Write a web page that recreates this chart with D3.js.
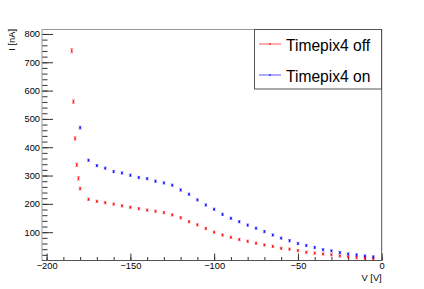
<!DOCTYPE html>
<html>
<head>
<meta charset="utf-8">
<script src="https://cdn.jsdelivr.net/npm/d3@7"></script>
<style>
  body { margin: 0; background: #fff; }
  svg text { font-family: "Liberation Sans", Arial, sans-serif; fill: #000; }
</style>
</head>
<body>
<div id="ivcurve"></div>
<script>
var width = 424, height = 289;

// Timepix4 off (red)
var offV   = [-185, -184, -183, -182, -181, -180, -175, -170, -165, -160, -155, -150, -145, -140, -135, -130, -125, -120, -115, -110, -105,
              -100, -95, -90, -85, -80, -75, -70, -65, -60, -55, -50, -45, -40, -35, -30, -25, -20, -15, -10, -5];
var offI   = [741, 561, 431, 338, 290, 254, 216, 209, 204, 199, 193, 188, 183, 178, 174, 169, 161, 151, 137, 126, 113,
              100, 90, 82, 74, 68, 61, 55, 50, 43, 40, 35, 29, 26, 23, 20, 16, 13, 10, 8, 6];
var offErr = [7, 6, 6, 6, 6, 5, 4, 4, 4, 4, 4, 4, 4, 4, 4, 4, 4, 4, 4, 4, 4,
              4, 4, 4, 4, 4, 4, 4, 4, 4, 4, 4, 4, 4, 4, 4, 4, 4, 4, 4, 4];

// Timepix4 on (blue)
var onV   = [-180, -175, -170, -165, -160, -155, -150, -145, -140, -135, -130, -125, -120, -115, -110, -105,
             -100, -95, -90, -85, -80, -75, -70, -65, -60, -55, -50, -45, -40, -35, -30, -25, -20, -15, -10, -5];
var onI   = [469, 354, 335, 326, 314, 309, 301, 293, 289, 280, 274, 266, 249, 234, 214, 196,
             181, 163, 149, 137, 125, 114, 102, 90, 79, 70, 60, 53, 46, 38, 34, 28, 23, 20, 16, 13];
var onErr = [5, 4, 4, 4, 4, 4, 4, 4, 4, 4, 4, 4, 4, 4, 4, 4,
             4, 4, 4, 4, 4, 4, 4, 4, 4, 4, 4, 4, 4, 4, 4, 4, 4, 4, 4, 4];

var labels = ["Timepix4 off", "Timepix4 on"];
var colors = ["#ff0000", "#0000ff"];

var xMajor = d3.range(-200, 1, 50);
var xMinor = d3.range(-200, 1, 10);
var yMajor = d3.range(100, 801, 100);
var yMinor = d3.range(20, 801, 20);

var frame = {left: 42, right: 381.7, top: 29, bottom: 260.5};

var xScale = d3.scaleLinear()
    .domain([-202.75, 0])
    .range([frame.left, frame.right]);

var yScale = d3.scaleLinear()
    .domain([0, 817.5])
    .range([frame.bottom, frame.top]);

var svg = d3.select("#ivcurve")
  .append("svg")
  .attr("width", width)
  .attr("height", height)
  .style("display", "block");

// minor ticks first
svg.append("g")
  .attr("transform", "translate(0," + frame.bottom + ")")
  .call(d3.axisBottom(xScale).tickValues(xMinor).tickSize(-3.5).tickFormat("").tickSizeOuter(0))
  .call(g => g.select(".domain").remove())
  .call(g => g.selectAll("line").attr("stroke", "#333"));

svg.append("g")
  .attr("transform", "translate(" + frame.left + ",0)")
  .call(d3.axisLeft(yScale).tickValues(yMinor).tickSize(-5.5).tickFormat("").tickSizeOuter(0))
  .call(g => g.select(".domain").remove())
  .call(g => g.selectAll("line").attr("stroke", "#333"));

// major ticks + labels
svg.append("g")
  .attr("transform", "translate(0," + frame.bottom + ")")
  .call(d3.axisBottom(xScale).tickValues(xMajor).tickSize(-7).tickPadding(2.2).tickSizeOuter(0)
    .tickFormat(d => d3.format("d")(d).replace("-", "\u2212")))
  .call(g => g.select(".domain").remove())
  .call(g => g.selectAll("line").attr("stroke", "#333"))
  .call(g => g.selectAll("text").style("font-size", "9.3px").attr("fill", "#000"));

svg.append("g")
  .attr("transform", "translate(" + frame.left + ",0)")
  .call(d3.axisLeft(yScale).tickValues(yMajor).tickSize(-11).tickPadding(2).tickSizeOuter(0))
  .call(g => g.select(".domain").remove())
  .call(g => g.selectAll("line").attr("stroke", "#333"))
  .call(g => g.selectAll("text").style("font-size", "9.3px").attr("fill", "#000"));

// frame
svg.append("line").attr("x1", frame.left).attr("x2", frame.right).attr("y1", frame.top + 0.5).attr("y2", frame.top + 0.5).style("stroke", "#999");
svg.append("line").attr("x1", frame.left).attr("x2", frame.left).attr("y1", frame.top).attr("y2", frame.bottom).style("stroke", "#999");
svg.append("line").attr("x1", frame.right).attr("x2", frame.right).attr("y1", frame.top).attr("y2", frame.bottom).style("stroke", "#555");
svg.append("line").attr("x1", frame.left).attr("x2", frame.right).attr("y1", frame.bottom).attr("y2", frame.bottom).style("stroke", "#555");

// data points with error bars
function drawSeries(vs, is, es, col) {
  var pts = vs.map(function(v, k) { return {v: v, i: is[k], e: es[k]}; });
  var g = svg.append("g");
  var p = g.selectAll("g.pt").data(pts).enter().append("g").attr("class", "pt");
  p.append("line")
    .attr("x1", d => xScale(d.v)).attr("x2", d => xScale(d.v))
    .attr("y1", d => yScale(d.i - d.e)).attr("y2", d => yScale(d.i + d.e))
    .style("stroke", col).style("opacity", 0.6);
  p.append("line")
    .attr("x1", d => xScale(d.v) - 1.5).attr("x2", d => xScale(d.v) + 1.5)
    .attr("y1", d => yScale(d.i - d.e)).attr("y2", d => yScale(d.i - d.e))
    .style("stroke", col).style("opacity", 0.45);
  p.append("line")
    .attr("x1", d => xScale(d.v) - 1.5).attr("x2", d => xScale(d.v) + 1.5)
    .attr("y1", d => yScale(d.i + d.e)).attr("y2", d => yScale(d.i + d.e))
    .style("stroke", col).style("opacity", 0.45);
  p.append("rect")
    .attr("x", d => xScale(d.v) - 0.8).attr("y", d => yScale(d.i) - 0.8)
    .attr("width", 1.6).attr("height", 1.6)
    .style("fill", col);
}
drawSeries(offV, offI, offErr, colors[0]);
drawSeries(onV, onI, onErr, colors[1]);

// legend
var leg = svg.append("g");
leg.append("rect")
  .attr("x", 254.5).attr("y", 29.5).attr("width", 127).attr("height", 59.5)
  .style("fill", "#fff").style("stroke", "#555");
[44, 75].forEach(function(ly, k) {
  leg.append("line").attr("x1", 259).attr("x2", 281).attr("y1", ly).attr("y2", ly)
    .style("stroke", colors[k]).style("opacity", 0.55).style("stroke-width", 1.2);
  leg.append("line").attr("x1", 270).attr("x2", 270).attr("y1", ly - 1).attr("y2", ly + 1)
    .style("stroke", colors[k]);
  leg.append("text").attr("x", 286).attr("y", ly + 6.8)
    .style("font-size", "15.6px").text(labels[k]);
});

// axis titles
svg.append("text")
  .attr("x", frame.right).attr("y", 281)
  .attr("text-anchor", "end")
  .style("font-size", "9.3px")
  .text("V [V]");

svg.append("text")
  .attr("transform", "translate(14.5," + frame.top + ") rotate(-90)")
  .attr("text-anchor", "end")
  .style("font-size", "9.3px")
  .text("I [nA]");
</script>
</body>
</html>
